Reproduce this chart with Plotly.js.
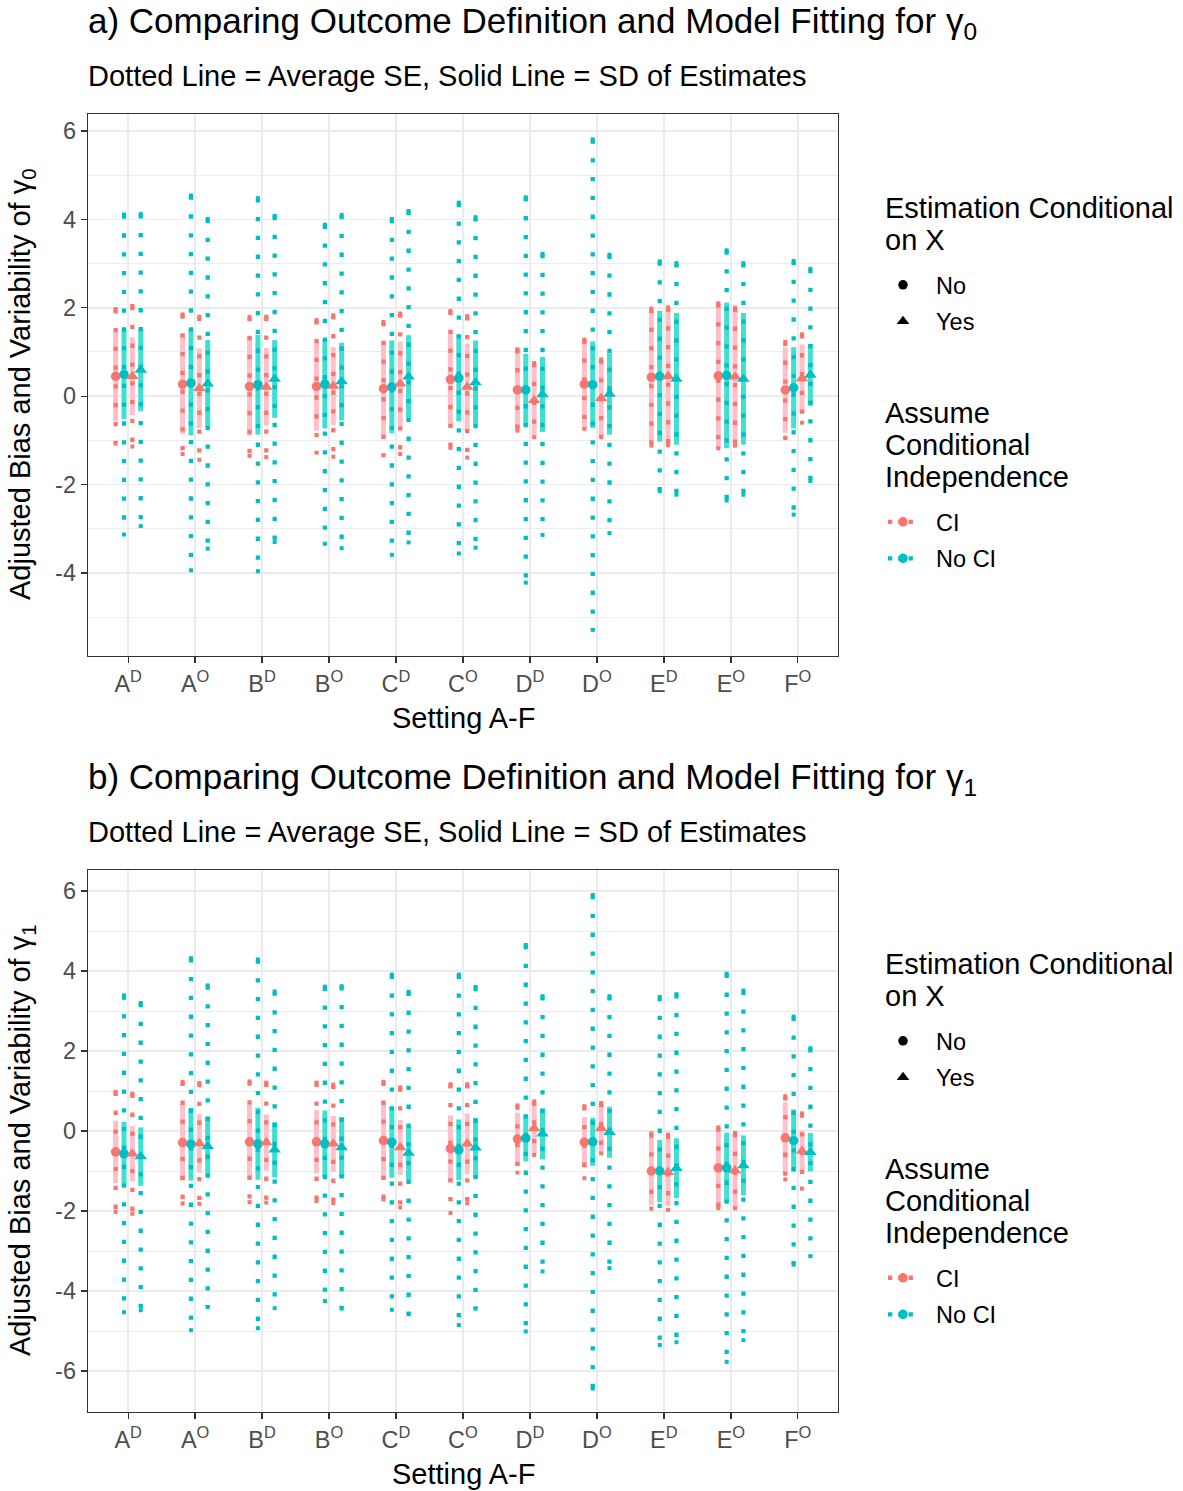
<!DOCTYPE html>
<html><head><meta charset="utf-8">
<script src="https://cdn.plot.ly/plotly-3.0.1.min.js"></script>
<style>body{margin:0;background:#fff}</style>
</head><body><div id="chart" style="width:1183px;height:1491px"></div>
<script>
// ---------- DATA ----------
const settings = ["A^D","A^O","B^D","B^O","C^D","C^O","D^D","D^O","E^D","E^O","F^O"];
const tickLabels = ["A<sup>D</sup>","A<sup>O</sup>","B<sup>D</sup>","B<sup>O</sup>","C<sup>D</sup>","C<sup>O</sup>","D<sup>D</sup>","D<sup>O</sup>","E<sup>D</sup>","E<sup>O</sup>","F<sup>O</sup>"];
const yTicksA = [-4,-2,0,2,4,6];
const yTickTextA = ["-4","-2","0","2","4","6"];
const yTicksB = [-6,-4,-2,0,2,4,6];
const yTickTextB = ["-6","-4","-2","0","2","4","6"];

// Panel a (gamma0): point estimate, half-length of SD line (solid), half-length of average-SE line (dotted)
const g0_CI_No_est   = [0.45,0.27,0.22,0.22,0.17,0.38,0.14,0.27,0.43,0.46,0.14];
const g0_CI_No_sd    = [1.01,1.13,1.11,1.00,1.08,1.07,0.91,1.00,1.51,1.64,0.97];
const g0_CI_No_se    = [1.52,1.58,1.57,1.50,1.51,1.55,0.92,1.01,1.55,1.64,1.09];
const g0_NoCI_No_est = [0.49,0.30,0.26,0.27,0.21,0.41,0.14,0.26,0.45,0.47,0.19];
const g0_NoCI_No_sd  = [1.01,1.19,1.13,1.00,1.05,0.98,0.82,0.98,1.48,1.65,0.92];
const g0_NoCI_No_se  = [3.62,4.24,4.22,3.61,3.80,3.97,4.36,5.55,2.60,2.83,2.87];
const g0_CI_Yes_est  = [0.45,0.18,0.21,0.23,0.28,0.21,-0.09,-0.05,0.45,0.44,0.40];
const g0_CI_Yes_sd   = [0.88,0.90,0.88,0.88,0.96,0.98,0.83,0.87,1.55,1.55,0.77];
const g0_CI_Yes_se   = [1.59,1.62,1.59,1.60,1.59,1.60,0.84,0.88,1.56,1.56,1.00];
const g0_NoCI_Yes_est= [0.59,0.28,0.39,0.33,0.44,0.31,0.04,0.05,0.39,0.39,0.48];
const g0_NoCI_Yes_sd = [0.93,0.99,0.88,0.88,0.94,0.95,0.85,0.92,1.49,1.49,0.70];
const g0_NoCI_Yes_se = [3.53,3.73,3.69,3.77,3.75,3.74,3.18,3.15,2.62,2.62,2.40];

// Panel b (gamma1)
const g1_CI_No_est   = [-0.52,-0.29,-0.27,-0.27,-0.24,-0.44,-0.20,-0.28,-1.00,-0.92,-0.17];
const g1_CI_No_sd    = [0.78,0.95,0.95,0.79,0.98,0.83,0.66,0.63,0.85,1.01,0.89];
const g1_CI_No_se    = [1.50,1.52,1.51,1.48,1.47,1.61,0.84,0.90,0.94,1.01,1.04];
const g1_NoCI_No_est = [-0.57,-0.33,-0.32,-0.32,-0.28,-0.47,-0.18,-0.27,-1.00,-0.92,-0.24];
const g1_NoCI_No_sd  = [0.80,0.91,0.90,0.83,0.89,0.76,0.58,0.60,0.78,0.88,0.78];
const g1_NoCI_No_se  = [3.96,4.65,4.61,3.93,4.19,4.38,4.83,6.17,4.35,4.85,3.10];
const g1_CI_Yes_est  = [-0.57,-0.31,-0.29,-0.32,-0.41,-0.32,0.07,0.07,-1.03,-0.99,-0.50];
const g1_CI_Yes_sd   = [0.69,0.73,0.70,0.70,0.69,0.76,0.67,0.63,0.85,0.94,0.52];
const g1_CI_Yes_se   = [1.50,1.51,1.50,1.48,1.50,1.49,0.67,0.63,0.94,0.94,0.94];
const g1_NoCI_Yes_est= [-0.64,-0.38,-0.47,-0.41,-0.55,-0.42,-0.07,-0.03,-0.93,-0.86,-0.53];
const g1_NoCI_Yes_sd = [0.73,0.75,0.69,0.76,0.68,0.75,0.64,0.64,0.75,0.75,0.48];
const g1_NoCI_Yes_se = [3.84,4.02,3.96,4.03,4.03,4.02,3.44,3.40,4.35,4.37,2.60];

// ---------- STYLE ----------
const RED = '#F8766D', TEAL = '#00BFC4', PINK = '#FFC0CB', TURQ = '#40E0D0';
const FONT = 'Liberation Sans, Arial, Helvetica, sans-serif';
const dodge = [-0.1875, -0.0625, 0.0625, 0.1875];
const W = 1183, H = 1491;
const px = v => v / W, py = v => 1 - v / H;
const NB = '\u00A0\u00A0';

function panelTraces(series, xa, ya) {
  const solids = [], dots = [], ends = [], pts = [];
  series.forEach((s, k) => {
    const xs = [], ysS = [], ysD = [], xp = [], xe = [], ye = [];
    s.est.forEach((e, i) => {
      const x = i + 1 + dodge[k];
      xp.push(x);
      xs.push(x, x, null);
      ysS.push(e + s.sd[i], e - s.sd[i], null);
      ysD.push(e + s.se[i], e - s.se[i], null);
      xe.push(x, x);
      ye.push(e + s.se[i], e - s.se[i]);
    });
    solids.push({x: xs, y: ysS, mode: 'lines', xaxis: xa, yaxis: ya, showlegend: false, hoverinfo: 'skip',
      line: {color: s.light, width: 5}});
    dots.push({x: xs, y: ysD, mode: 'lines', xaxis: xa, yaxis: ya, showlegend: false, hoverinfo: 'skip',
      line: {color: s.color, width: 4.3, dash: '4.3px,14.5px'}});
    ends.push({x: xe, y: ye, mode: 'markers', xaxis: xa, yaxis: ya, showlegend: false, hoverinfo: 'skip',
      marker: {color: s.color, symbol: 'square', size: 4, line: {width: 0}}});
    pts.push({x: xp, y: s.est, mode: 'markers', xaxis: xa, yaxis: ya, showlegend: false,
      marker: {color: s.color, symbol: s.symbol, size: s.symbol === 'circle' ? 9.5 : 11}});
  });
  return solids.concat(dots, ends, pts);
}

const seriesA = [
  {est: g0_CI_No_est, sd: g0_CI_No_sd, se: g0_CI_No_se, color: RED, light: PINK, symbol: 'circle'},
  {est: g0_NoCI_No_est, sd: g0_NoCI_No_sd, se: g0_NoCI_No_se, color: TEAL, light: TURQ, symbol: 'circle'},
  {est: g0_CI_Yes_est, sd: g0_CI_Yes_sd, se: g0_CI_Yes_se, color: RED, light: PINK, symbol: 'triangle-up'},
  {est: g0_NoCI_Yes_est, sd: g0_NoCI_Yes_sd, se: g0_NoCI_Yes_se, color: TEAL, light: TURQ, symbol: 'triangle-up'}
];
const seriesB = [
  {est: g1_CI_No_est, sd: g1_CI_No_sd, se: g1_CI_No_se, color: RED, light: PINK, symbol: 'circle'},
  {est: g1_NoCI_No_est, sd: g1_NoCI_No_sd, se: g1_NoCI_No_se, color: TEAL, light: TURQ, symbol: 'circle'},
  {est: g1_CI_Yes_est, sd: g1_CI_Yes_sd, se: g1_CI_Yes_se, color: RED, light: PINK, symbol: 'triangle-up'},
  {est: g1_NoCI_Yes_est, sd: g1_NoCI_Yes_sd, se: g1_NoCI_Yes_se, color: TEAL, light: TURQ, symbol: 'triangle-up'}
];

let traces = panelTraces(seriesA, 'x', 'y').concat(panelTraces(seriesB, 'x2', 'y2'));

// legend-only traces
function legendTraces(shapeLeg, colLeg, xa, ya) {
  return [
    {x: [null], y: [null], mode: 'markers', name: NB + 'No', legend: shapeLeg, legendgroup: shapeLeg + 'no', xaxis: xa, yaxis: ya,
      marker: {symbol: 'circle', color: 'black', size: 9.5}},
    {x: [null], y: [null], mode: 'markers', name: NB + 'Yes', legend: shapeLeg, legendgroup: shapeLeg + 'yes', xaxis: xa, yaxis: ya,
      marker: {symbol: 'triangle-up', color: 'black', size: 11}},
    {x: [null], y: [null], mode: 'lines+markers', name: NB + 'CI', legend: colLeg, legendgroup: colLeg + 'ci', xaxis: xa, yaxis: ya,
      line: {color: RED, width: 4.3, dash: '4.3px,6px'}, marker: {symbol: 'circle', color: RED, size: 9.5}},
    {x: [null], y: [null], mode: 'lines+markers', name: NB + 'No CI', legend: colLeg, legendgroup: colLeg + 'noci', xaxis: xa, yaxis: ya,
      line: {color: TEAL, width: 4.3, dash: '4.3px,6px'}, marker: {symbol: 'circle', color: TEAL, size: 9.5}}
  ];
}
traces = traces.concat(legendTraces('legend', 'legend2', 'x', 'y'), legendTraces('legend3', 'legend4', 'x2', 'y2'));

const xCommon = {
  range: [0.4, 11.6], tickmode: 'array', tickvals: settings.map((s, i) => i + 1), ticktext: tickLabels,
  showline: true, mirror: true, linecolor: '#333333', linewidth: 1.3,
  ticks: 'outside', ticklen: 6, tickwidth: 1.3, tickcolor: '#333333',
  showgrid: true, gridcolor: '#EBEBEB', gridwidth: 1.8, zeroline: false,
  tickfont: {size: 23.5, color: '#4D4D4D', family: FONT}, domain: [px(88), px(838)], fixedrange: true
};
function yAxis(range, vals, text, minorVals, dom, anchor) {
  return {
    range: range, tickmode: 'array', tickvals: vals, ticktext: text, anchor: anchor,
    showline: true, mirror: true, linecolor: '#333333', linewidth: 1.3,
    ticks: 'outside', ticklen: 6, tickwidth: 1.3, tickcolor: '#333333',
    showgrid: true, gridcolor: '#EBEBEB', gridwidth: 1.8, zeroline: false,
    minor: {tickmode: 'array', tickvals: minorVals, showgrid: true, gridcolor: '#EBEBEB', gridwidth: 0.9, ticks: ''},
    tickfont: {size: 23.5, color: '#4D4D4D', family: FONT}, domain: dom, fixedrange: true
  };
}

function ann(text, x, y, size, opts) {
  return Object.assign({text: text, x: x, y: y, xref: 'paper', yref: 'paper', showarrow: false,
    xanchor: 'left', yanchor: 'middle', font: {size: size, color: 'black', family: FONT}}, opts || {});
}

const OFF = 756;
const annotations = [];
[['a', '0', 0], ['b', '1', OFF]].forEach(([lbl, sub, o]) => {
  annotations.push(ann(lbl + ') Comparing Outcome Definition and Model Fitting for γ<sub>' + sub + '</sub>', px(86), py(23 + o), 35));
  annotations.push(ann('Dotted Line = Average SE, Solid Line = SD of Estimates', px(86), py(76 + o), 29));
  annotations.push(ann('Setting A-F', px(463), py(718 + o), 29, {xanchor: 'center'}));
  annotations.push(ann('Adjusted Bias and Variability of γ<sub>' + sub + '</sub>', px(22), py(385 + o), 29, {xanchor: 'center', textangle: -90}));
  annotations.push(ann('Estimation Conditional', px(883), py(208 + o), 29));
  annotations.push(ann('on X', px(883), py(240 + o), 29));
  annotations.push(ann('Assume', px(883), py(413 + o), 29));
  annotations.push(ann('Conditional', px(883), py(445 + o), 29));
  annotations.push(ann('Independence', px(883), py(477 + o), 29));
});

function legendBox(top) {
  return {x: px(883), xanchor: 'left', y: py(top), yanchor: 'top', bgcolor: 'rgba(0,0,0,0)',
    font: {size: 23.5, color: 'black', family: FONT}, itemwidth: 30, tracegroupgap: 3, traceorder: 'grouped'};
}

const layout = {
  width: W, height: H, autosize: false,
  margin: {l: 0, r: 0, t: 0, b: 0},
  paper_bgcolor: 'white', plot_bgcolor: 'white',
  font: {family: FONT, color: 'black'},
  xaxis: Object.assign({}, xCommon, {anchor: 'y'}),
  yaxis: yAxis([-5.88, 6.385], yTicksA, yTickTextA, [-5, -3, -1, 1, 3, 5], [py(656), py(114)], 'x'),
  xaxis2: Object.assign({}, xCommon, {anchor: 'y2'}),
  yaxis2: yAxis([-7.025, 6.525], yTicksB, yTickTextB, [-7, -5, -3, -1, 1, 3, 5], [py(1412), py(870)], 'x2'),
  legend: legendBox(263),
  legend2: legendBox(500),
  legend3: legendBox(263 + OFF),
  legend4: legendBox(500 + OFF),
  annotations: annotations
};

Plotly.newPlot('chart', traces, layout, {staticPlot: true, displayModeBar: false});
</script>
</body></html>
